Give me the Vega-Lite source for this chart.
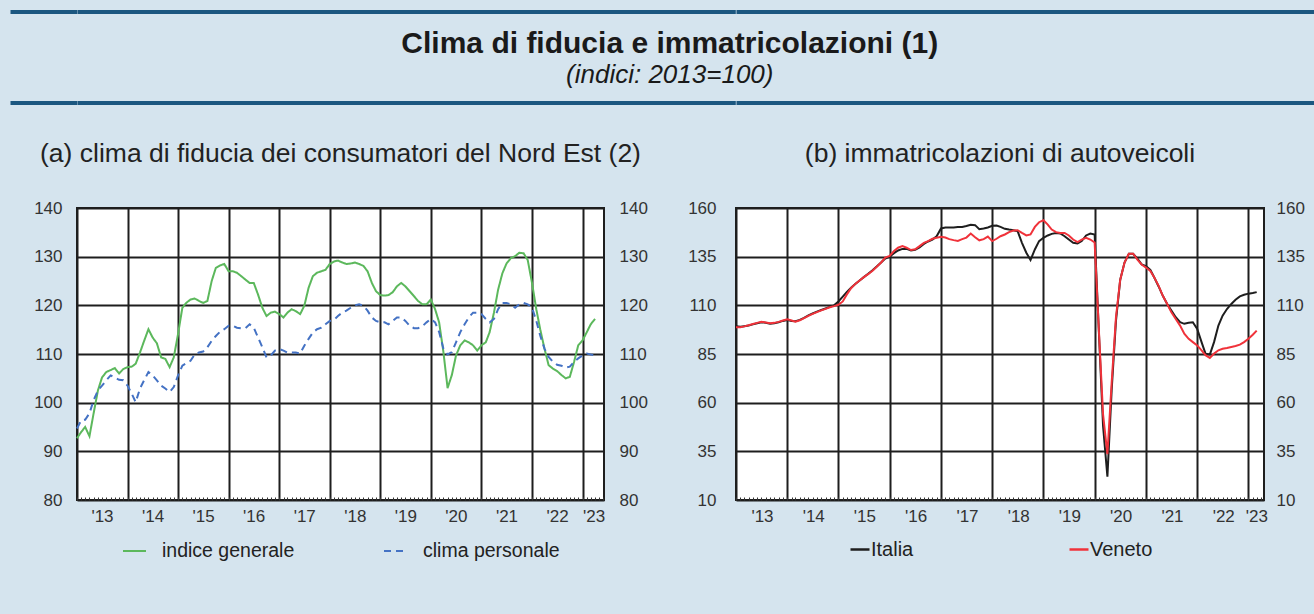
{
  "$schema": "https://vega.github.io/schema/vega-lite/v6.json",
  "background": "#d5e4ee",
  "padding": {"left": 10, "top": 11.5, "right": 0, "bottom": 55},
  "columns": 3,
  "bounds": "flush",
  "align": "each",
  "spacing": {"row": 105.5, "column": 0},
  "resolve": {"scale": {"color": "independent", "strokeDash": "independent"}},
  "datasets": {
    "testata": [{"t": "Clima di fiducia e immatricolazioni (1)", "e": ""}],
    "fiducia": [
      {"d":"2013-01","g":92.7,"p":94.7},{"d":"2013-02","g":94.0,"p":96.4},{"d":"2013-03","g":95.0,"p":96.5},{"d":"2013-04","g":93.1,"p":97.8},{"d":"2013-05","g":97.8,"p":100.5},{"d":"2013-06","g":102.5,"p":102.5},{"d":"2013-07","g":105.2,"p":103.5},{"d":"2013-08","g":106.3,"p":104.6},{"d":"2013-09","g":106.7,"p":105.6},{"d":"2013-10","g":107.1,"p":105.2},{"d":"2013-11","g":106.0,"p":104.7},{"d":"2013-12","g":106.9,"p":104.6},
      {"d":"2014-01","g":107.3,"p":103.5},{"d":"2014-02","g":107.4,"p":101.8},{"d":"2014-03","g":108.0,"p":100.1},{"d":"2014-04","g":110.3,"p":102.9},{"d":"2014-05","g":112.7,"p":104.6},{"d":"2014-06","g":115.1,"p":106.3},{"d":"2014-07","g":113.4,"p":105.6},{"d":"2014-08","g":112.2,"p":104.6},{"d":"2014-09","g":109.3,"p":103.5},{"d":"2014-10","g":109.0,"p":102.9},{"d":"2014-11","g":107.3,"p":102.2},{"d":"2014-12","g":109.3,"p":103.2},
      {"d":"2015-01","g":114.1,"p":105.6},{"d":"2015-02","g":119.5,"p":107.6},{"d":"2015-03","g":120.5,"p":108.1},{"d":"2015-04","g":121.2,"p":108.6},{"d":"2015-05","g":121.4,"p":109.9},{"d":"2015-06","g":120.9,"p":110.3},{"d":"2015-07","g":120.5,"p":110.5},{"d":"2015-08","g":120.9,"p":111.4},{"d":"2015-09","g":125.0,"p":112.7},{"d":"2015-10","g":127.7,"p":113.7},{"d":"2015-11","g":128.2,"p":114.6},{"d":"2015-12","g":128.5,"p":115.1},
      {"d":"2016-01","g":127.0,"p":115.8},{"d":"2016-02","g":127.0,"p":115.8},{"d":"2016-03","g":126.7,"p":115.4},{"d":"2016-04","g":126.0,"p":115.3},{"d":"2016-05","g":125.3,"p":115.3},{"d":"2016-06","g":124.6,"p":116.1},{"d":"2016-07","g":124.6,"p":115.4},{"d":"2016-08","g":122.2,"p":113.4},{"d":"2016-09","g":119.5,"p":111.4},{"d":"2016-10","g":117.8,"p":109.3},{"d":"2016-11","g":118.5,"p":109.7},{"d":"2016-12","g":118.7,"p":110.7},
      {"d":"2017-01","g":118.2,"p":111.0},{"d":"2017-02","g":117.5,"p":110.7},{"d":"2017-03","g":118.5,"p":110.3},{"d":"2017-04","g":119.2,"p":110.3},{"d":"2017-05","g":118.8,"p":110.3},{"d":"2017-06","g":118.2,"p":110.1},{"d":"2017-07","g":119.9,"p":111.7},{"d":"2017-08","g":123.6,"p":113.1},{"d":"2017-09","g":126.0,"p":114.4},{"d":"2017-10","g":126.7,"p":115.1},{"d":"2017-11","g":127.0,"p":115.4},{"d":"2017-12","g":127.3,"p":116.1},
      {"d":"2018-01","g":128.5,"p":116.8},{"d":"2018-02","g":129.0,"p":117.0},{"d":"2018-03","g":129.2,"p":117.8},{"d":"2018-04","g":128.8,"p":118.5},{"d":"2018-05","g":128.5,"p":118.9},{"d":"2018-06","g":128.6,"p":119.5},{"d":"2018-07","g":128.8,"p":120.0},{"d":"2018-08","g":128.5,"p":120.2},{"d":"2018-09","g":128.1,"p":119.9},{"d":"2018-10","g":127.0,"p":118.9},{"d":"2018-11","g":124.6,"p":117.5},{"d":"2018-12","g":122.9,"p":116.8},
      {"d":"2019-01","g":122.1,"p":116.5},{"d":"2019-02","g":122.0,"p":116.5},{"d":"2019-03","g":122.1,"p":116.1},{"d":"2019-04","g":122.7,"p":116.8},{"d":"2019-05","g":123.9,"p":117.5},{"d":"2019-06","g":124.6,"p":117.5},{"d":"2019-07","g":123.9,"p":116.8},{"d":"2019-08","g":122.9,"p":115.8},{"d":"2019-09","g":121.9,"p":115.3},{"d":"2019-10","g":120.9,"p":115.3},{"d":"2019-11","g":120.2,"p":115.7},{"d":"2019-12","g":120.2,"p":116.5},
      {"d":"2020-01","g":121.2,"p":117.2},{"d":"2020-02","g":119.2,"p":116.5},{"d":"2020-03","g":116.5,"p":114.5},{"d":"2020-04","g":110.4,"p":111.1},{"d":"2020-05","g":103.0,"p":109.9},{"d":"2020-06","g":105.7,"p":110.4},{"d":"2020-07","g":109.7,"p":112.4},{"d":"2020-08","g":111.8,"p":114.5},{"d":"2020-09","g":112.8,"p":116.1},{"d":"2020-10","g":112.4,"p":117.5},{"d":"2020-11","g":111.8,"p":118.5},{"d":"2020-12","g":110.7,"p":118.5},
      {"d":"2021-01","g":111.8,"p":118.2},{"d":"2021-02","g":112.4,"p":117.2},{"d":"2021-03","g":114.5,"p":116.5},{"d":"2021-04","g":118.5,"p":117.2},{"d":"2021-05","g":123.2,"p":119.2},{"d":"2021-06","g":126.6,"p":120.5},{"d":"2021-07","g":128.6,"p":120.5},{"d":"2021-08","g":129.7,"p":120.2},{"d":"2021-09","g":130.1,"p":119.5},{"d":"2021-10","g":130.8,"p":120.2},{"d":"2021-11","g":130.7,"p":120.5},{"d":"2021-12","g":129.3,"p":120.2},
      {"d":"2022-01","g":124.6,"p":119.5},{"d":"2022-02","g":119.2,"p":116.8},{"d":"2022-03","g":115.1,"p":113.8},{"d":"2022-04","g":111.1,"p":111.1},{"d":"2022-05","g":107.7,"p":109.4},{"d":"2022-06","g":107.0,"p":108.4},{"d":"2022-07","g":106.5,"p":107.8},{"d":"2022-08","g":105.7,"p":107.6},{"d":"2022-09","g":105.0,"p":107.2},{"d":"2022-10","g":105.3,"p":107.4},{"d":"2022-11","g":108.4,"p":108.4},{"d":"2022-12","g":111.8,"p":109.1},
      {"d":"2023-01","g":112.8,"p":109.7},{"d":"2023-02","g":114.5,"p":110.1},{"d":"2023-03","g":116.1,"p":109.9},{"d":"2023-04","g":117.2,"p":109.7}
    ],
    "immatricolazioni": [
      {"d":"2013-01","i":99.2,"v":98.8},{"d":"2013-02","i":99.0,"v":98.8},{"d":"2013-03","i":99.3,"v":99.2},{"d":"2013-04","i":99.6,"v":99.8},{"d":"2013-05","i":100.2,"v":100.4},{"d":"2013-06","i":100.8,"v":101.0},{"d":"2013-07","i":101.3,"v":101.6},{"d":"2013-08","i":101.0,"v":101.2},{"d":"2013-09","i":100.6,"v":100.8},{"d":"2013-10","i":100.8,"v":101.0},{"d":"2013-11","i":101.3,"v":101.5},{"d":"2013-12","i":102.0,"v":102.2},
      {"d":"2014-01","i":102.4,"v":102.8},{"d":"2014-02","i":102.0,"v":102.2},{"d":"2014-03","i":101.8,"v":101.6},{"d":"2014-04","i":102.5,"v":102.3},{"d":"2014-05","i":103.6,"v":103.4},{"d":"2014-06","i":104.8,"v":104.6},{"d":"2014-07","i":105.8,"v":105.6},{"d":"2014-08","i":106.8,"v":106.5},{"d":"2014-09","i":107.6,"v":107.4},{"d":"2014-10","i":108.4,"v":108.2},{"d":"2014-11","i":109.2,"v":109.0},{"d":"2014-12","i":110.0,"v":109.6},
      {"d":"2015-01","i":112.0,"v":110.3},{"d":"2015-02","i":114.5,"v":112.0},{"d":"2015-03","i":116.8,"v":115.5},{"d":"2015-04","i":119.0,"v":118.8},{"d":"2015-05","i":121.0,"v":121.0},{"d":"2015-06","i":122.8,"v":122.8},{"d":"2015-07","i":124.5,"v":124.5},{"d":"2015-08","i":126.2,"v":126.0},{"d":"2015-09","i":128.0,"v":127.8},{"d":"2015-10","i":130.0,"v":129.8},{"d":"2015-11","i":132.0,"v":132.0},{"d":"2015-12","i":134.0,"v":134.5},
      {"d":"2016-01","i":135.0,"v":135.4},{"d":"2016-02","i":136.8,"v":137.9},{"d":"2016-03","i":138.2,"v":139.6},{"d":"2016-04","i":139.0,"v":140.4},{"d":"2016-05","i":139.0,"v":139.6},{"d":"2016-06","i":138.2,"v":138.4},{"d":"2016-07","i":138.5,"v":138.8},{"d":"2016-08","i":139.8,"v":140.4},{"d":"2016-09","i":141.5,"v":142.1},{"d":"2016-10","i":142.8,"v":143.0},{"d":"2016-11","i":143.8,"v":144.2},{"d":"2016-12","i":145.5,"v":144.7},
      {"d":"2017-01","i":149.5,"v":145.2},{"d":"2017-02","i":150.0,"v":144.8},{"d":"2017-03","i":150.0,"v":144.0},{"d":"2017-04","i":150.0,"v":143.5},{"d":"2017-05","i":150.2,"v":143.1},{"d":"2017-06","i":150.3,"v":144.0},{"d":"2017-07","i":150.8,"v":144.8},{"d":"2017-08","i":151.4,"v":146.9},{"d":"2017-09","i":151.2,"v":145.0},{"d":"2017-10","i":149.1,"v":143.4},{"d":"2017-11","i":149.5,"v":144.0},{"d":"2017-12","i":150.0,"v":145.3},
      {"d":"2018-01","i":150.9,"v":143.0},{"d":"2018-02","i":151.0,"v":144.2},{"d":"2018-03","i":150.3,"v":145.5},{"d":"2018-04","i":149.3,"v":146.4},{"d":"2018-05","i":148.9,"v":147.6},{"d":"2018-06","i":148.6,"v":148.4},{"d":"2018-07","i":148.1,"v":148.6},{"d":"2018-08","i":142.1,"v":147.2},{"d":"2018-09","i":137.0,"v":145.9},{"d":"2018-10","i":133.3,"v":146.4},{"d":"2018-11","i":138.7,"v":150.3},{"d":"2018-12","i":143.0,"v":152.7},
      {"d":"2019-01","i":144.7,"v":153.7},{"d":"2019-02","i":145.9,"v":151.5},{"d":"2019-03","i":146.7,"v":148.9},{"d":"2019-04","i":147.2,"v":147.6},{"d":"2019-05","i":146.9,"v":147.2},{"d":"2019-06","i":145.5,"v":147.2},{"d":"2019-07","i":143.8,"v":145.9},{"d":"2019-08","i":142.1,"v":143.8},{"d":"2019-09","i":141.8,"v":142.5},{"d":"2019-10","i":143.0,"v":143.8},{"d":"2019-11","i":145.9,"v":144.7},{"d":"2019-12","i":146.9,"v":143.8},
      {"d":"2020-01","i":146.4,"v":142.3},{"d":"2020-02","i":95.0,"v":96.0},{"d":"2020-03","i":48.0,"v":54.0},{"d":"2020-04","i":22.0,"v":33.5},{"d":"2020-05","i":66.0,"v":70.0},{"d":"2020-06","i":102.0,"v":104.0},{"d":"2020-07","i":123.0,"v":123.0},{"d":"2020-08","i":132.0,"v":132.0},{"d":"2020-09","i":136.5,"v":136.5},{"d":"2020-10","i":136.5,"v":136.5},{"d":"2020-11","i":134.0,"v":133.5},{"d":"2020-12","i":131.0,"v":131.0},
      {"d":"2021-01","i":130.2,"v":129.4},{"d":"2021-02","i":128.2,"v":127.7},{"d":"2021-03","i":124.3,"v":124.3},{"d":"2021-04","i":119.7,"v":120.0},{"d":"2021-05","i":114.9,"v":114.9},{"d":"2021-06","i":110.7,"v":110.7},{"d":"2021-07","i":107.3,"v":106.4},{"d":"2021-08","i":103.9,"v":103.0},{"d":"2021-09","i":101.3,"v":99.6},{"d":"2021-10","i":100.5,"v":95.4},{"d":"2021-11","i":101.0,"v":92.8},{"d":"2021-12","i":101.3,"v":91.1},
      {"d":"2022-01","i":97.9,"v":89.4},{"d":"2022-02","i":91.1,"v":86.9},{"d":"2022-03","i":85.2,"v":84.4},{"d":"2022-04","i":84.7,"v":83.0},{"d":"2022-05","i":91.1,"v":85.2},{"d":"2022-06","i":99.6,"v":86.9},{"d":"2022-07","i":104.7,"v":87.7},{"d":"2022-08","i":108.1,"v":88.1},{"d":"2022-09","i":110.7,"v":88.6},{"d":"2022-10","i":112.9,"v":89.1},{"d":"2022-11","i":114.6,"v":89.8},{"d":"2022-12","i":115.4,"v":91.1},
      {"d":"2023-01","i":116.0,"v":92.8},{"d":"2023-02","i":116.3,"v":94.9},{"d":"2023-03","i":116.8,"v":97.0}
    ]
  },
  "concat": [
    {
      "width": 66.7,
      "height": 90.5,
      "view": {"fill": null, "stroke": null},
      "data": {"name": "testata"},
      "mark": {"type": "text"},
      "encoding": {
        "text": {"field": "e"},
        "y": {"datum": 0.5, "type": "quantitative", "scale": {"domain": [0, 1]},
          "axis": {"values": [0, 1], "grid": true, "gridColor": "#1b5780", "gridWidth": 4, "labels": false, "ticks": false, "domain": false, "title": null}}
      }
    },
    {
      "width": 658.3,
      "height": 90.5,
      "view": {"fill": null, "stroke": null},
      "title": {"text": "(indici: 2013=100)", "orient": "bottom", "anchor": "middle", "dx": 263.6, "offset": -19.5, "baseline": "alphabetic", "font": "Liberation Sans", "fontSize": 26, "fontStyle": "italic", "fontWeight": "normal", "color": "#1a1a1a"},
      "data": {"name": "testata"},
      "mark": {"type": "text", "baseline": "alphabetic", "align": "center", "dx": 263.6, "dy": -4, "font": "Liberation Sans", "fontSize": 30, "fontWeight": "bold", "color": "#1a1a1a"},
      "encoding": {
        "text": {"field": "t"},
        "y": {"datum": 0.5, "type": "quantitative", "scale": {"domain": [0, 1]},
          "axis": {"values": [0, 1], "grid": true, "gridColor": "#1b5780", "gridWidth": 4, "labels": false, "ticks": false, "domain": false, "title": null}}
      }
    },
    {
      "width": 594,
      "height": 90.5,
      "view": {"fill": null, "stroke": null},
      "data": {"name": "testata"},
      "mark": {"type": "text"},
      "encoding": {
        "text": {"field": "e"},
        "y": {"datum": 0.5, "type": "quantitative", "scale": {"domain": [0, 1]},
          "axis": {"values": [0, 1], "grid": true, "gridColor": "#1b5780", "gridWidth": 4, "labels": false, "ticks": false, "domain": false, "title": null}}
      }
    },
    {
      "width": 66.7,
      "height": 292,
      "view": {"fill": null, "stroke": null},
      "data": {"name": "testata"},
      "mark": {"type": "text"},
      "encoding": {"text": {"field": "e"}}
    },
    {
      "width": 527,
      "height": 292,
      "title": {"text": "(a) clima di fiducia dei consumatori del Nord Est (2)", "fontSize": 26.5, "fontWeight": "normal", "offset": 31.5},
      "data": {"name": "fiducia"},
      "transform": [{"fold": ["g", "p"], "as": ["s", "val"]}],
      "layer": [
        {
          "transform": [{"filter": "datum.s == 'g'"}],
          "mark": {"type": "line", "strokeWidth": 2},
          "encoding": {
            "x": {"field": "d", "type": "temporal",
              "scale": {"domain": [{"year": 2013, "month": 1, "date": 1}, {"year": 2023, "month": 6, "date": 5}]},
              "axis": {"orient": "bottom", "grid": true, "labelPadding": 8, "labelBaseline": "top",
                "values": [{"year":2013,"month":1,"date":1},{"year":2014,"month":1,"date":1},{"year":2015,"month":1,"date":1},{"year":2016,"month":1,"date":1},{"year":2017,"month":1,"date":1},{"year":2018,"month":1,"date":1},{"year":2019,"month":1,"date":1},{"year":2020,"month":1,"date":1},{"year":2021,"month":1,"date":1},{"year":2022,"month":1,"date":1},{"year":2023,"month":1,"date":1}],
                "labelExpr": "\"'\" + timeFormat(datum.value, '%y')",
                "labelOffset": {"condition": {"test": "year(datum.value) == 2023", "value": 11}, "value": 25},
                "title": null}},
            "y": {"field": "val", "type": "quantitative",
              "scale": {"domain": [80, 140], "nice": false, "zero": false},
              "axis": {"orient": "left", "grid": true, "values": [80, 90, 100, 110, 120, 130, 140], "labelPadding": 15, "title": null}},
            "color": {"field": "s", "type": "nominal",
              "scale": {"domain": ["g", "p"], "range": ["#5cb85c", "#4472c4"]},
              "legend": {"title": null, "orient": "none", "legendX": 45, "legendY": 330.5, "direction": "horizontal",
                "labelExpr": "datum.label == 'g' ? 'indice generale' : 'clima personale'",
                "symbolType": "stroke", "symbolSize": 529, "symbolStrokeWidth": 2, "labelOffset": 15, "columnPadding": 85,
                "labelFont": "Liberation Sans", "labelFontSize": 19.5, "labelColor": "#222222", "padding": 0}},
            "strokeDash": {"field": "s", "type": "nominal",
              "scale": {"domain": ["g", "p"], "range": [[1, 0], [7, 5]]}}
          }
        },
        {
          "transform": [{"filter": "datum.s == 'p'"}],
          "mark": {"type": "line", "strokeWidth": 2},
          "encoding": {
            "x": {"field": "d", "type": "temporal",
              "axis": {"orient": "bottom", "grid": false, "labels": false, "domain": false, "ticks": true,
                "tickCount": {"interval": "month", "step": 1},
                "tickSize": -3,
                "tickColor": "#333333", "tickWidth": 1, "title": null}},
            "y": {"field": "val", "type": "quantitative",
              "axis": {"orient": "right", "grid": false, "values": [80, 90, 100, 110, 120, 130, 140], "labelPadding": 15, "title": null}},
            "color": {"field": "s", "type": "nominal"},
            "strokeDash": {"field": "s", "type": "nominal"}
          }
        }
      ],
      "resolve": {"axis": {"x": "independent", "y": "independent"}}
    },
    {
      "width": 528,
      "height": 292,
      "title": {"text": "(b) immatricolazioni di autoveicoli", "fontSize": 26.5, "fontWeight": "normal", "offset": 31.5},
      "data": {"name": "immatricolazioni"},
      "transform": [{"fold": ["i", "v"], "as": ["s", "val"]}],
      "layer": [
        {
          "transform": [{"filter": "datum.s == 'i'"}],
          "mark": {"type": "line", "strokeWidth": 2},
          "encoding": {
            "x": {"field": "d", "type": "temporal",
              "scale": {"domain": [{"year": 2013, "month": 1, "date": 1}, {"year": 2023, "month": 4, "date": 22}]},
              "axis": {"orient": "bottom", "grid": true, "labelPadding": 8, "labelBaseline": "top",
                "values": [{"year":2013,"month":1,"date":1},{"year":2014,"month":1,"date":1},{"year":2015,"month":1,"date":1},{"year":2016,"month":1,"date":1},{"year":2017,"month":1,"date":1},{"year":2018,"month":1,"date":1},{"year":2019,"month":1,"date":1},{"year":2020,"month":1,"date":1},{"year":2021,"month":1,"date":1},{"year":2022,"month":1,"date":1},{"year":2023,"month":1,"date":1}],
                "labelExpr": "\"'\" + timeFormat(datum.value, '%y')",
                "labelOffset": {"condition": {"test": "year(datum.value) == 2023", "value": 8}, "value": 26},
                "title": null}},
            "y": {"field": "val", "type": "quantitative",
              "scale": {"domain": [10, 160], "nice": false, "zero": false},
              "axis": {"orient": "left", "grid": true, "values": [10, 35, 60, 85, 110, 135, 160], "labelPadding": 20, "title": null}},
            "color": {"field": "s", "type": "nominal",
              "scale": {"domain": ["i", "v"], "range": ["#1e1e1e", "#f0323a"]},
              "legend": {"title": null, "orient": "none", "legendX": 113, "legendY": 330.5, "direction": "horizontal",
                "labelExpr": "datum.label == 'i' ? 'Italia' : 'Veneto'",
                "symbolType": "stroke", "symbolSize": 361, "symbolStrokeWidth": 2.5, "labelOffset": 0, "columnPadding": 150,
                "labelFont": "Liberation Sans", "labelFontSize": 20, "labelColor": "#222222", "padding": 0}}
          }
        },
        {
          "transform": [{"filter": "datum.s == 'v'"}],
          "mark": {"type": "line", "strokeWidth": 2},
          "encoding": {
            "x": {"field": "d", "type": "temporal",
              "axis": {"orient": "bottom", "grid": false, "labels": false, "domain": false, "ticks": true,
                "tickCount": {"interval": "month", "step": 1},
                "tickSize": -3,
                "tickColor": "#333333", "tickWidth": 1, "title": null}},
            "y": {"field": "val", "type": "quantitative",
              "axis": {"orient": "right", "grid": false, "values": [10, 35, 60, 85, 110, 135, 160], "labelPadding": 12, "title": null}},
            "color": {"field": "s", "type": "nominal"}
          }
        }
      ],
      "resolve": {"axis": {"x": "independent", "y": "independent"}}
    }
  ],
  "config": {
    "view": {"stroke": "#1e1e1e", "strokeWidth": 2, "fill": "#ffffff"},
    "axis": {"labelFont": "Liberation Sans", "labelFontSize": 17, "labelColor": "#333333", "gridColor": "#1e1e1e", "gridWidth": 2, "gridOpacity": 1, "domain": false, "ticks": false, "labelFlush": false, "labelOverlap": false, "labelBound": false},
    "title": {"font": "Liberation Sans", "color": "#222222", "anchor": "middle"}
  }
}
